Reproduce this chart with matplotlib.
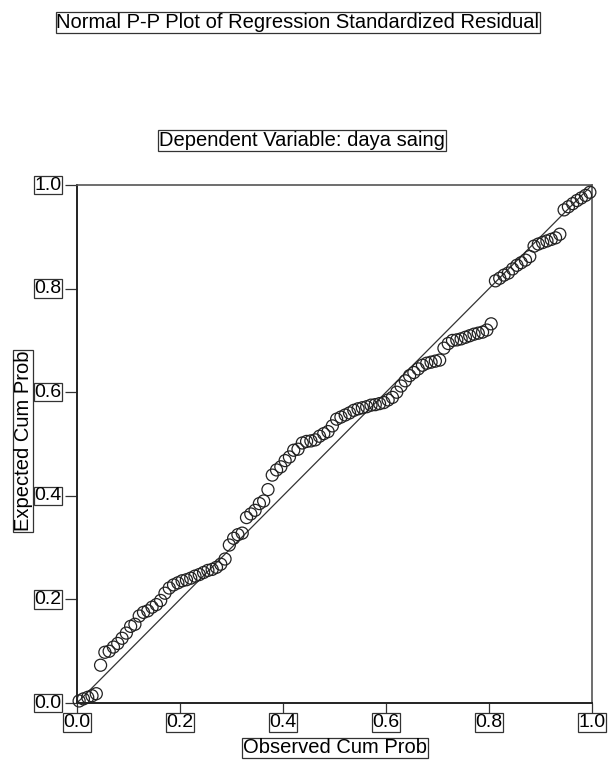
import numpy as np
import matplotlib.pyplot as plt

plt.rcParams['font.family'] = ['Liberation Sans', 'DejaVu Sans']

# expected cumulative probability of each sorted residual
expected = [
    0.004, 0.008, 0.011, 0.014, 0.018,
    0.073,
    0.098, 0.100, 0.108, 0.115, 0.125, 0.135, 0.148, 0.152, 0.168, 0.175,
    0.178, 0.185, 0.19, 0.198, 0.212, 0.222, 0.228,
    0.232, 0.236, 0.238, 0.241, 0.245, 0.248, 0.252, 0.256, 0.258, 0.262,
    0.268, 0.278,
    0.305, 0.318, 0.325, 0.328,
    0.358, 0.365, 0.372, 0.385, 0.39, 0.412, 0.44,
    0.45, 0.456, 0.468, 0.475, 0.488, 0.49, 0.502, 0.505, 0.506, 0.508,
    0.515, 0.52, 0.524, 0.535, 0.548, 0.552,
    0.556, 0.56, 0.565, 0.568, 0.57, 0.572, 0.575, 0.576, 0.578, 0.58,
    0.585, 0.59, 0.6, 0.612, 0.622, 0.632, 0.638, 0.645, 0.652, 0.656,
    0.658, 0.66, 0.662,
    0.685, 0.694, 0.70, 0.701, 0.703, 0.706, 0.709, 0.712, 0.714, 0.716,
    0.72, 0.732,
    0.815, 0.82, 0.826, 0.83, 0.838, 0.845, 0.85, 0.855, 0.862,
    0.882, 0.886, 0.889, 0.892, 0.895, 0.898, 0.905,
    0.952, 0.958, 0.964, 0.97, 0.975, 0.98, 0.986,
]
n = len(expected)
# observed cum prob = rank / n
observed = (np.arange(n) + 0.5) / n

ticks = [0.0, 0.2, 0.4, 0.6, 0.8, 1.0]
tick_labels = ['0.0', '0.2', '0.4', '0.6', '0.8', '1.0']

title = 'Normal P-P Plot of Regression Standardized Residual'
subtitle = 'Dependent Variable: daya saing'

fig = plt.figure(figsize=(6.08, 7.67), dpi=100)
ax = fig.add_axes([0.1266, 0.0834, 0.8471, 0.6754])

ax.plot([0, 1], [0, 1], color='#333333', lw=0.9, zorder=2)
ax.scatter(observed, expected, s=75, facecolors='none', edgecolors='#222222',
           linewidths=0.9, zorder=3, clip_on=False)

ax.set_xlim(0, 1)
ax.set_ylim(0, 1)
ax.set_xticks(ticks)
ax.set_yticks(ticks)
ax.set_xticklabels([])
ax.set_yticklabels([])
ax.tick_params(direction='out', length=9, width=0.9, color='#333333')

for s in ['left', 'bottom']:
    ax.spines[s].set_linewidth(1.4)
    ax.spines[s].set_color('#222222')
for s in ['top', 'right']:
    ax.spines[s].set_linewidth(1.2)
    ax.spines[s].set_color('#555555')

box = dict(boxstyle='square,pad=0.04', fc='white', ec='#333333', lw=0.9)
for t, lab in zip(ticks, tick_labels):
    ax.annotate(lab, xy=(t, 0), xycoords='data', xytext=(0, -8),
                textcoords='offset points', ha='center', va='top',
                fontsize=14, bbox=box, annotation_clip=False)
    ax.annotate(lab, xy=(0, t), xycoords='data', xytext=(-11, 0),
                textcoords='offset points', ha='right', va='center',
                fontsize=14, bbox=box, annotation_clip=False)

fig.text(0.551, 0.025, 'Observed Cum Prob', ha='center', va='center',
         fontsize=14.5, bbox=box)
fig.text(0.038, 0.425, 'Expected Cum Prob', ha='center', va='center',
         rotation=90, fontsize=14.5, bbox=box)

fig.text(0.49, 0.971, title, ha='center', va='center', fontsize=14.5, bbox=box)
fig.text(0.497, 0.817, subtitle, ha='center', va='center', fontsize=14.5, bbox=box)

fig.savefig('out.png', dpi=100)
